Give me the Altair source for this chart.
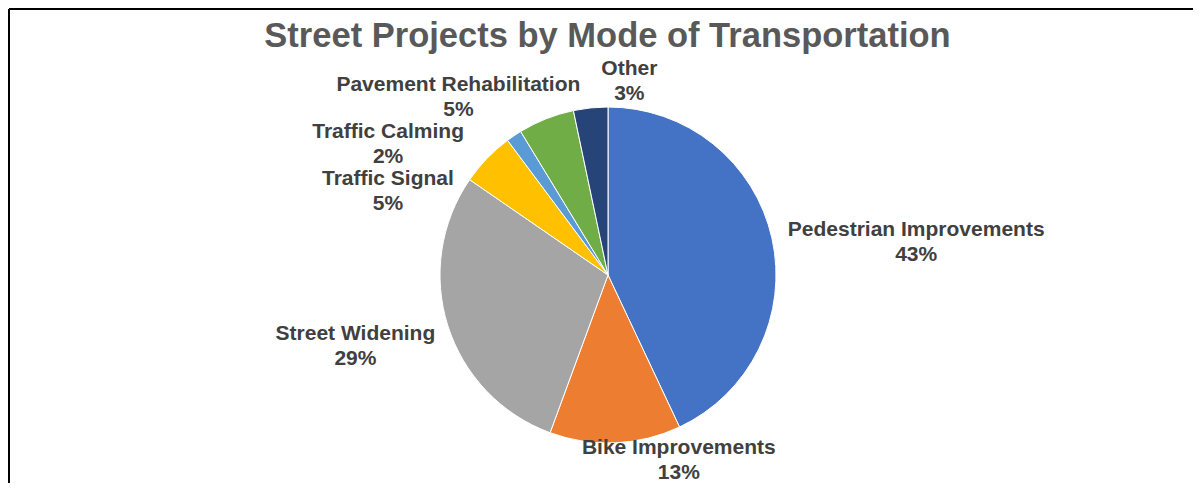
import altair as alt
import pandas as pd

# ---- data ----
categories = ["Pedestrian Improvements", "Bike Improvements", "Street Widening",
              "Traffic Signal", "Traffic Calming", "Pavement Rehabilitation", "Other"]
shares = [43.0, 12.6, 29.0, 5.2, 1.5, 5.4, 3.3]
colors = ["#4472C4", "#ED7D31", "#A5A5A5", "#FFC000", "#5B9BD5", "#70AD47", "#264478"]

# ---- layout: label nudges relative to the slice mid-angle anchor ----
label_dx = [113, 62, -62, -76, -108, -76, 42]
label_dy = [-1, -27, -2, 43, 23, -4, -7]

df = pd.DataFrame({
    "category": categories,
    "share": shares,
    "idx": list(range(len(categories))),
    "label": [f"{c}\n{round(v)}%" for c, v in zip(categories, shares)],
    "ldx": label_dx,
    "ldy": label_dy,
})

CX, CY, R = 600, 207, 168

base = alt.Chart(df).encode(
    theta=alt.Theta("share:Q", stack=True),
    order=alt.Order("idx:Q", sort="ascending"),
    x=alt.value(CX),
    y=alt.value(CY),
)

pie = base.mark_arc(outerRadius=R, stroke="white", strokeWidth=1).encode(
    color=alt.Color("category:N", scale=alt.Scale(domain=categories, range=colors),
                    sort=None, legend=None)
)

labels = base.mark_text(
    radius=200, font="Liberation Sans", fontWeight="bold", fontSize=21,
    color="#404040", align="center", baseline="middle", lineBreak="\n", lineHeight=25,
    dx=alt.expr("datum.ldx"), dy=alt.expr("datum.ldy"),
).encode(text="label:N")

frame_df = pd.DataFrame({"k": [0]})
top_line = alt.Chart(frame_df).mark_rule(color="black", strokeWidth=2).encode(
    x=alt.value(1), x2=alt.value(1185), y=alt.value(-59))
left_line = alt.Chart(frame_df).mark_rule(color="black", strokeWidth=2).encode(
    x=alt.value(1), y=alt.value(-59), y2=alt.value(415))

chart = alt.layer(top_line, left_line, pie, labels).properties(
    width=1185, height=415,
    autosize=alt.AutoSizeParams(type="none"),
    padding={"left": 0, "top": 60, "right": 0, "bottom": 0},
    title=alt.TitleParams(
        "Street Projects by Mode of Transportation",
        anchor="middle", font="Liberation Sans", fontSize=34.5, fontWeight="bold",
        color="#595959", dx=7, dy=43, offset=-30, baseline="alphabetic",
    ),
).configure_view(stroke=None)

chart.save("out.html", embed_options={"renderer": "svg", "actions": False})
